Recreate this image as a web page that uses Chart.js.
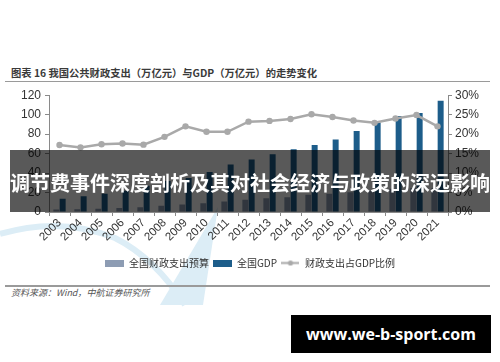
<!DOCTYPE html>
<html>
<head>
<meta charset="utf-8">
<script src="https://cdn.jsdelivr.net/npm/chart.js@4.4.1/dist/chart.umd.min.js"></script>
<style>
  body { margin: 0; background: #fff; }
  #page { position: relative; width: 500px; height: 362px; overflow: hidden; background: #fff; font-family: "Noto Sans CJK SC", sans-serif; }
  #mark { position: absolute; left: 0; top: 0; }
  #box { position: absolute; left: 0; top: 84px; width: 500px; height: 194px; }
  #title { position: absolute; left: 11px; top: 66px; font-size: 10.3px; line-height: 14px; font-weight: bold; color: #3a3a3a; white-space: nowrap; }
  .rule { position: absolute; left: 5px; width: 485px; background: #9a9a9a; }
  #source { position: absolute; left: 11px; top: 287px; font-size: 9px; line-height: 12px; font-style: italic; color: #555; }
  #banner { position: absolute; left: 10px; top: 150px; width: 480px; height: 62px; background: rgba(0,0,0,0.65);
            color: #fff; font-size: 20px; font-weight: bold; line-height: 62px; text-align: center; white-space: nowrap; padding-top: 2px; box-sizing: border-box; }
  #site { position: absolute; left: 291px; top: 315px; width: 200px; height: 38px; background: #000; color: #fff;
          font-family: "Open Sans", sans-serif; font-weight: bold; font-size: 16px; line-height: 38px; text-align: center; }
</style>
</head>
<body>
<div id="page">
  <svg id="mark" width="500" height="362">
    <path d="M0 234 Q 60 216 115 238 Q 155 258 185 305" fill="none" stroke="#dcedf6" stroke-width="6"/>
    <path d="M160 305 L 218 207 L 203 305 Z" fill="#dcedf6"/>
  </svg>
  <div id="title">图表 16 我国公共财政支出（万亿元）与GDP（万亿元）的走势变化</div>
  <div class="rule" style="top:81px;height:1px"></div>
  <div id="box"><canvas id="chart"></canvas></div>
  <div class="rule" style="top:285px;height:1.5px"></div>
  <div id="source">资料来源：Wind，中航证券研究所</div>
  <div id="banner">调节费事件深度剖析及其对社会经济与政策的深远影响</div>
  <div id="site">www.we-b-sport.com</div>
</div>
<script>
const years = ['2003', '2004', '2005', '2006', '2007', '2008', '2009', '2010', '2011', '2012',
               '2013', '2014', '2015', '2016', '2017', '2018', '2019', '2020', '2021'];
// 全国财政支出预算（万亿元）
const budget = [2.5, 2.8, 3.4, 4.0, 5.0, 6.3, 7.6, 9.0, 10.9, 12.6, 14.0, 15.2, 17.6, 18.8, 20.3, 22.1, 23.9, 24.6, 24.6];
// 全国GDP（万亿元）
const gdp = [13.7, 16.2, 18.7, 21.9, 27.0, 31.9, 34.9, 41.2, 48.8, 53.9, 59.3, 64.4, 68.9, 74.6, 83.2, 91.9, 98.7, 101.6, 114.4];
// 财政支出占GDP比例（%）
const ratio = [17.2, 16.6, 17.4, 17.6, 17.3, 19.3, 22.0, 20.6, 20.6, 23.2, 23.4, 23.9, 25.1, 24.4, 23.5, 22.9, 24.0, 24.9, 22.0];
const leftTicks = [0, 20, 40, 60, 80, 100, 120];
const rightTicks = [0, 5, 10, 15, 20, 25, 30];

const BUDGET_COLOR = '#8d9cb3';
const GDP_COLOR = '#1d5d8a';
const LINE_COLOR = '#a9a9a9';

// 图例小图标
function swatch(color) {
    const c = document.createElement('canvas');
    c.width = 19; c.height = 7;
    const g = c.getContext('2d');
    g.fillStyle = color;
    g.fillRect(0, 0, 19, 7);
    return c;
}
function lineSwatch() {
    const c = document.createElement('canvas');
    c.width = 18; c.height = 7;
    const g = c.getContext('2d');
    g.strokeStyle = LINE_COLOR;
    g.lineWidth = 2;
    g.beginPath(); g.moveTo(0, 3.5); g.lineTo(18, 3.5); g.stroke();
    g.fillStyle = LINE_COLOR;
    g.beginPath(); g.arc(9, 3.5, 2.6, 0, Math.PI * 2); g.fill();
    return c;
}
const icons = [swatch(BUDGET_COLOR), swatch(GDP_COLOR), lineSwatch()];

const tickFont = { family: '"Liberation Sans", Arial, sans-serif', size: 12 };
const axisColor = '#8a8a8a';

new Chart(document.getElementById('chart'), {
    type: 'bar',
    data: {
        labels: years,
        datasets: [
            { label: '全国财政支出预算', data: budget, backgroundColor: BUDGET_COLOR, yAxisID: 'y', order: 2,
              categoryPercentage: 0.6, barPercentage: 0.95 },
            { label: '全国GDP', data: gdp, backgroundColor: GDP_COLOR, yAxisID: 'y', order: 2,
              categoryPercentage: 0.6, barPercentage: 0.95 },
            { type: 'line', label: '财政支出占GDP比例', data: ratio, yAxisID: 'y1', order: 0,
              borderColor: LINE_COLOR, backgroundColor: LINE_COLOR, borderWidth: 2.5,
              pointRadius: 3.2, pointHoverRadius: 3.2, pointBorderWidth: 0, tension: 0 }
        ]
    },
    options: {
        responsive: true,
        maintainAspectRatio: false,
        animation: false,
        layout: { padding: { top: 9, left: 0, right: 0, bottom: 0 } },
        plugins: {
            tooltip: { enabled: false },
            legend: {
                position: 'bottom',
                labels: {
                    font: { family: '"Noto Sans CJK SC", sans-serif', size: 10 },
                    color: '#333',
                    padding: 4,
                    usePointStyle: true,
                    pointStyleWidth: 19,
                    boxHeight: 7,
                    generateLabels: chart => chart.data.datasets.map((ds, i) => ({
                        text: ds.label, datasetIndex: i, pointStyle: icons[i],
                        fillStyle: LINE_COLOR, strokeStyle: LINE_COLOR, lineWidth: 0,
                        hidden: false, fontColor: '#333'
                    }))
                }
            }
        },
        scales: {
            x: {
                grid: { offset: true, drawOnChartArea: false, color: axisColor, tickLength: 4 },
                border: { color: axisColor },
                ticks: { font: { family: '"Liberation Sans", Arial, sans-serif', size: 11.5 }, color: '#333',
                         minRotation: 45, maxRotation: 45, padding: 0, autoSkip: false },
                afterFit: s => { s.height = 42; }
            },
            y: {
                position: 'left',
                min: 0, max: 120,
                afterBuildTicks: s => { s.ticks = leftTicks.map(v => ({ value: v })); },
                grid: { drawOnChartArea: false, color: axisColor, tickLength: 4 },
                border: { color: axisColor },
                ticks: { font: tickFont, color: '#333', padding: 4 },
                afterFit: s => { s.width = 49; }
            },
            y1: {
                position: 'right',
                min: 0, max: 30,
                afterBuildTicks: s => { s.ticks = rightTicks.map(v => ({ value: v })); },
                grid: { drawOnChartArea: false, color: axisColor, tickLength: 4 },
                border: { color: axisColor },
                ticks: { font: tickFont, color: '#333', padding: 3, callback: v => v + '%' },
                afterFit: s => { s.width = 52; }
            }
        }
    }
});
</script>
</body>
</html>
